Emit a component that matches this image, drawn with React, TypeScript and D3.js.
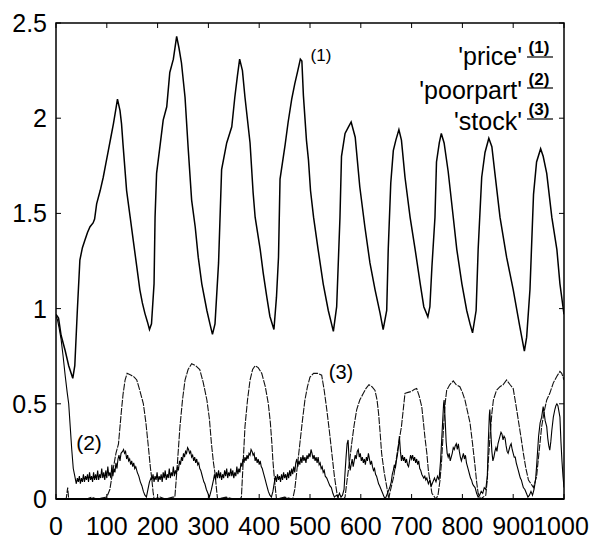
import React from "react";
import * as d3 from "d3";

type Pt = [number, number];

const xTicks = [0, 100, 200, 300, 400, 500, 600, 700, 800, 900, 1000];
const yTicks = [0, 0.5, 1, 1.5, 2, 2.5];
const yTickLabels = ["0", "0.5", "1", "1.5", "2", "2.5"];
const legendNames = ["'price'", "'poorpart'", "'stock'"];
const legendMarks = ["(1)", "(2)", "(3)"];

const price: Pt[] = [
  [0, 0.97], [5, 0.95], [10, 0.86], [18, 0.78], [25, 0.70], [33, 0.634], [37, 0.70], [42, 0.99], [47, 1.255],
  [52, 1.32], [57, 1.36], [62, 1.40], [67, 1.43], [73, 1.45], [76, 1.47], [80, 1.55], [87, 1.62], [93, 1.69],
  [98, 1.76], [103, 1.83], [108, 1.90], [113, 1.97], [118, 2.05], [121, 2.10], [126, 2.04], [129, 1.97],
  [132, 1.86], [139, 1.62], [146, 1.48], [152, 1.36], [159, 1.22], [165, 1.10], [170, 1.03], [175, 0.975],
  [180, 0.93], [184, 0.89], [188, 0.92], [193, 1.13], [195, 1.48], [198, 1.71], [205, 1.86], [211, 1.99],
  [218, 2.06], [224, 2.24], [231, 2.31], [237.5, 2.43], [242, 2.37], [247, 2.29], [254, 2.11], [260, 1.85],
  [267, 1.57], [274, 1.43], [280, 1.27], [287, 1.13], [297, 0.99], [303, 0.92], [308, 0.865], [313, 0.92],
  [320, 1.24], [326, 1.73], [336, 1.87], [346, 1.955], [352, 2.11], [357, 2.22], [361.5, 2.31], [367, 2.25],
  [372, 2.11], [382, 1.87], [388, 1.61], [392, 1.48], [402, 1.31], [408, 1.185], [415, 1.06], [421, 0.96],
  [429, 0.89], [434, 1.06], [438, 1.27], [441, 1.68], [451, 1.86], [457, 1.98], [464, 2.10], [470, 2.18],
  [476, 2.25], [481, 2.31], [484, 2.30], [487, 2.12], [493, 1.885], [497, 1.78], [501, 1.62], [507, 1.48],
  [516, 1.31], [526, 1.13], [536, 0.99], [546, 0.88], [552.5, 1.01], [559, 1.48], [562, 1.80], [569, 1.92],
  [575, 1.95], [581, 1.98], [589, 1.90], [598, 1.64], [608, 1.43], [618, 1.24], [628, 1.10], [638, 0.975],
  [644, 0.89], [651, 0.99], [654, 1.31], [659, 1.66], [664, 1.83], [669, 1.885], [675, 1.94], [680, 1.885],
  [687, 1.69], [697, 1.48], [707, 1.31], [717, 1.13], [724, 1.01], [732, 0.957], [736, 1.01], [740, 1.22],
  [746, 1.48], [749, 1.77], [754.5, 1.87], [758.5, 1.92], [764, 1.87], [772, 1.72], [782, 1.48], [789, 1.31],
  [799, 1.13], [808.5, 0.99], [815, 0.92], [820, 0.873], [827, 0.99], [831, 1.31], [838, 1.69], [844.5, 1.82],
  [852, 1.895], [858, 1.85], [864, 1.71], [874, 1.48], [887, 1.27], [900, 1.10], [913, 0.905], [922, 0.777],
  [926.5, 0.85], [933, 1.10], [940, 1.60], [946, 1.77], [954, 1.84], [959, 1.80], [966, 1.71], [976, 1.48],
  [986, 1.31], [992, 1.13], [1000, 0.97],
];

const poorpart: Pt[] = [
  [0, 0.96], [3, 0.94], [6, 0.90], [10, 0.84], [14, 0.75], [18, 0.65], [22, 0.56], [25, 0.50], [28, 0.38],
  [31, 0.26], [34, 0.16], [37, 0.12],
  [40, 0.08], [42, 0.11], [44, 0.09], [46, 0.12], [48, 0.08], [50, 0.11], [52, 0.09], [54, 0.13], [56, 0.09],
  [58, 0.12], [60, 0.10], [62, 0.13], [64, 0.09], [66, 0.14], [68, 0.10], [70, 0.12], [72, 0.09], [74, 0.14],
  [76, 0.10], [78, 0.13], [80, 0.10], [82, 0.15], [84, 0.10], [86, 0.13], [88, 0.11], [90, 0.16], [92, 0.11],
  [94, 0.14], [96, 0.10], [98, 0.15], [100, 0.11], [102, 0.17], [104, 0.12], [106, 0.14], [108, 0.11],
  [110, 0.18], [112, 0.12], [114, 0.16], [116, 0.14],
  [118, 0.19], [120, 0.16], [122, 0.21], [124, 0.23], [126, 0.20], [128, 0.24], [131, 0.25], [133, 0.26],
  [135, 0.24], [137, 0.25], [139, 0.21], [141, 0.23], [143, 0.20], [145, 0.21], [147, 0.18], [149, 0.20],
  [151, 0.17], [153, 0.19], [155, 0.16], [157, 0.17], [160, 0.14], [163, 0.12], [166, 0.09], [169, 0.07],
  [172, 0.04], [175, 0.02], [178, 0.01], [181, 0.05], [184, 0.09], [187, 0.11],
  [189, 0.10], [191, 0.13], [193, 0.09], [195, 0.12], [197, 0.10], [199, 0.14], [201, 0.09], [203, 0.12],
  [205, 0.10], [207, 0.13], [209, 0.09], [211, 0.14], [213, 0.11], [215, 0.15], [217, 0.10], [219, 0.13],
  [221, 0.11], [223, 0.16], [225, 0.11], [227, 0.14], [229, 0.12], [231, 0.17], [233, 0.12], [235, 0.15],
  [237, 0.13],
  [239, 0.17], [241, 0.15], [243, 0.20], [245, 0.18], [247, 0.22], [249, 0.20], [251, 0.24], [253, 0.22],
  [255, 0.25], [257, 0.24], [259, 0.27], [261, 0.26], [263, 0.24], [265, 0.25], [267, 0.22], [269, 0.23],
  [271, 0.20], [273, 0.22], [275, 0.19], [277, 0.21], [279, 0.18], [281, 0.19], [283, 0.16], [285, 0.15],
  [287, 0.13], [289, 0.11], [291, 0.09], [293, 0.08], [296, 0.05], [299, 0.03], [302, 0.01], [306, 0.05],
  [310, 0.10],
  [312, 0.13], [314, 0.10], [316, 0.14], [318, 0.11], [320, 0.15], [322, 0.11], [324, 0.14], [326, 0.10],
  [328, 0.13], [330, 0.11], [332, 0.15], [334, 0.12], [336, 0.16], [338, 0.11], [340, 0.14], [342, 0.12],
  [344, 0.16], [346, 0.12], [348, 0.15], [350, 0.11], [352, 0.14], [354, 0.12], [356, 0.17], [358, 0.13],
  [360, 0.16], [362, 0.14],
  [364, 0.19], [366, 0.17], [368, 0.21], [370, 0.19], [372, 0.22], [374, 0.20], [376, 0.23], [378, 0.21],
  [380, 0.24], [382, 0.23], [384, 0.26], [386, 0.25], [388, 0.23], [390, 0.24], [392, 0.20], [394, 0.22],
  [396, 0.19], [398, 0.21], [400, 0.18], [402, 0.20], [404, 0.17], [406, 0.16], [408, 0.14], [410, 0.12],
  [412, 0.10], [414, 0.08], [416, 0.06], [418, 0.04], [421, 0.02], [424, 0.01], [427, 0.04], [430, 0.09],
  [432, 0.12], [434, 0.09], [436, 0.13], [438, 0.10], [440, 0.12], [442, 0.09], [444, 0.13], [446, 0.10],
  [448, 0.14], [450, 0.11], [452, 0.13], [454, 0.10], [456, 0.14], [458, 0.11], [460, 0.15], [462, 0.12],
  [464, 0.16], [466, 0.13], [468, 0.17], [470, 0.14],
  [472, 0.19], [474, 0.21], [476, 0.17], [478, 0.20], [480, 0.18], [482, 0.22], [484, 0.19], [486, 0.23],
  [488, 0.20], [490, 0.22], [492, 0.19], [494, 0.23], [496, 0.21], [498, 0.24], [500, 0.22], [502, 0.26],
  [504, 0.24], [506, 0.21], [508, 0.23], [510, 0.20], [512, 0.22], [514, 0.19], [516, 0.22], [518, 0.18],
  [520, 0.19], [522, 0.16], [524, 0.17], [526, 0.14], [528, 0.15], [530, 0.12], [533, 0.11], [536, 0.09],
  [539, 0.07], [542, 0.06], [545, 0.03], [548, 0.01],
  [552, 0.02], [555, 0.01], [558, 0.03], [561, 0.01], [564, 0.02], [567, 0.05],
  [569, 0.14], [571, 0.22], [573, 0.29], [575, 0.31], [577, 0.20], [579, 0.15], [581, 0.18], [583, 0.21],
  [585, 0.17], [587, 0.20], [589, 0.23], [591, 0.21], [593, 0.25], [595, 0.26], [597, 0.22], [599, 0.24],
  [601, 0.20], [603, 0.22], [605, 0.19], [607, 0.21], [609, 0.18], [611, 0.22], [613, 0.20], [615, 0.24],
  [617, 0.21], [619, 0.18], [621, 0.20], [623, 0.17], [625, 0.15], [627, 0.16], [629, 0.13], [631, 0.12],
  [633, 0.10], [635, 0.08], [637, 0.07], [640, 0.05], [643, 0.03], [646, 0.01], [648, 0.0],
  [651, 0.02], [654, 0.04], [657, 0.06], [660, 0.09],
  [662, 0.13], [664, 0.15], [666, 0.18], [668, 0.16], [670, 0.20], [672, 0.23], [674, 0.27], [676, 0.33],
  [678, 0.25], [680, 0.20], [682, 0.23], [684, 0.20], [686, 0.22], [688, 0.19], [690, 0.21], [692, 0.18],
  [694, 0.17], [696, 0.20], [698, 0.23], [700, 0.21], [702, 0.23], [704, 0.20], [706, 0.22], [708, 0.19],
  [710, 0.21], [712, 0.18], [714, 0.20], [716, 0.16], [718, 0.15], [720, 0.13], [722, 0.12], [724, 0.11],
  [726, 0.12], [728, 0.10], [730, 0.11], [733, 0.08], [736, 0.10], [739, 0.07], [742, 0.09], [745, 0.11],
  [748, 0.09], [751, 0.12], [754, 0.10], [757, 0.20],
  [760, 0.35], [763, 0.50], [764, 0.52], [766, 0.42], [768, 0.30], [770, 0.24], [772, 0.22], [774, 0.24],
  [776, 0.20], [778, 0.22], [780, 0.24], [782, 0.27], [784, 0.26], [786, 0.28], [788, 0.29], [790, 0.26],
  [792, 0.29], [794, 0.25], [796, 0.22], [798, 0.20], [800, 0.22], [802, 0.24], [804, 0.21], [806, 0.23],
  [808, 0.19], [810, 0.17], [812, 0.15], [814, 0.13], [816, 0.11], [818, 0.10], [820, 0.08], [822, 0.07],
  [825, 0.06], [828, 0.03], [831, 0.01],
  [834, 0.02], [837, 0.04], [840, 0.03], [843, 0.06], [846, 0.05], [849, 0.12],
  [851, 0.30], [853, 0.44], [854, 0.47], [856, 0.35], [858, 0.25], [860, 0.20], [862, 0.22], [864, 0.25],
  [866, 0.27], [868, 0.25], [870, 0.29], [872, 0.31], [874, 0.33], [876, 0.35], [878, 0.34], [880, 0.31],
  [882, 0.33], [884, 0.32], [886, 0.28], [888, 0.25], [890, 0.24], [892, 0.26], [894, 0.28], [896, 0.29],
  [898, 0.26], [900, 0.24], [902, 0.22], [904, 0.22], [906, 0.19], [908, 0.17], [910, 0.15], [912, 0.13],
  [914, 0.11], [916, 0.10], [918, 0.08], [920, 0.06], [923, 0.05], [926, 0.03], [929, 0.01],
  [932, 0.02], [935, 0.04], [938, 0.02], [941, 0.05], [944, 0.10],
  [946, 0.17], [948, 0.25], [950, 0.33], [953, 0.40], [956, 0.43], [959, 0.485], [961, 0.45], [963, 0.41],
  [966, 0.38], [968, 0.32], [970, 0.28], [972, 0.257], [974, 0.30], [976, 0.36], [979, 0.43], [982, 0.47],
  [984, 0.49], [986, 0.50], [988, 0.49], [990, 0.46], [992, 0.43], [994, 0.30], [996, 0.20], [998, 0.12],
  [1000, 0.06],
];

const stock: Pt[] = [
  [0, 0], [20, 0], [23, 0.06], [25, 0], [60, 0], [70, 0.01], [80, 0], [100, 0.01], [106, 0.05], [112, 0.15],
  [118, 0.24], [123, 0.29], [126, 0.38], [129, 0.47], [132, 0.55], [136, 0.625], [140, 0.66], [148, 0.65],
  [154, 0.64], [159, 0.625], [165, 0.57], [172, 0.50], [177, 0.40], [182, 0.27], [186, 0.16], [188, 0.12],
  [191, 0.04], [193, 0], [205, 0.01], [215, 0], [230, 0.01], [234, 0.01], [238, 0.15], [244, 0.38],
  [249, 0.52], [254, 0.625], [260, 0.68], [267, 0.71], [275, 0.70], [283, 0.68], [290, 0.61], [297, 0.52],
  [302, 0.42], [306, 0.29], [310, 0.19], [313, 0.135], [316, 0.05], [318, 0], [335, 0.01], [350, 0],
  [362, 0], [365, 0.01], [368, 0.17], [372, 0.38], [377, 0.52], [382, 0.625], [387, 0.68], [392, 0.70],
  [398, 0.69], [405, 0.66], [412, 0.59], [418, 0.50], [422, 0.40], [425, 0.29], [427, 0.20], [429, 0.136],
  [432, 0.05], [434, 0], [450, 0.01], [466, 0], [470, 0.05], [475, 0.17], [480, 0.29], [485, 0.41],
  [490, 0.52], [495, 0.59], [500, 0.64], [507, 0.66], [515, 0.66], [523, 0.65], [528, 0.57], [533, 0.47],
  [538, 0.36], [543, 0.24], [548, 0.12], [553, 0.03], [556, 0], [566, 0], [569, 0.01], [573, 0.10],
  [578, 0.20], [582, 0.29], [587, 0.39], [592, 0.47], [598, 0.52], [605, 0.555], [610, 0.58], [616, 0.60],
  [622, 0.59], [628, 0.57], [632, 0.52], [635, 0.45], [638, 0.35], [641, 0.24], [646, 0.14], [651, 0.065],
  [655, 0], [657, 0.03], [665, 0.12], [672, 0.25], [680, 0.38], [684, 0.48], [687, 0.555], [693, 0.56],
  [700, 0.565], [705, 0.575], [710, 0.58], [715, 0.54], [720, 0.485], [723, 0.41], [726, 0.33], [730, 0.24],
  [733, 0.15], [737, 0.08], [740, 0.03], [748, 0], [752, 0.02], [756, 0.10], [759, 0.20], [763, 0.38],
  [766, 0.50], [769, 0.57], [775, 0.60], [782, 0.62], [788, 0.60], [795, 0.59], [800, 0.56], [805, 0.52],
  [810, 0.46], [815, 0.40], [820, 0.29], [825, 0.17], [828, 0.09], [831, 0.03], [836, 0], [846, 0.02],
  [849, 0.10], [851, 0.20], [855, 0.35], [858, 0.45], [861, 0.52], [867, 0.57], [874, 0.59], [880, 0.60],
  [887, 0.625], [894, 0.60], [900, 0.58], [905, 0.50], [910, 0.415], [915, 0.33], [920, 0.24], [925, 0.16],
  [930, 0.10], [935, 0.08], [940, 0.06], [944, 0.10], [946, 0.117], [951, 0.25], [956, 0.38], [961, 0.46],
  [966, 0.52], [972, 0.555], [979, 0.61], [986, 0.645], [992, 0.67], [995.5, 0.66], [1000, 0.625],
];

const W = 599;
const H = 541;
const L = 56, R = 564, T = 23, B = 499;

export default function App() {
  const x = d3.scaleLinear().domain([0, 1000]).range([L, R]);
  const y = d3.scaleLinear().domain([0, 2.5]).range([B, T]);
  const line = d3.line<Pt>().x((d) => x(d[0])).y((d) => y(d[1]));
  const font = "'Liberation Sans', Arial, Helvetica, sans-serif";
  const tick = 5;
  const legendY = [65, 99, 130];
  const legendMarkY = [53, 85, 115];
  const legendLineY = [57, 88, 119];

  return (
    <svg width={W} height={H} style={{ position: "absolute", left: 0, top: 0, background: "#fff" }}
      fontFamily={font}>
      <rect x={0} y={0} width={W} height={H} fill="#fff" />
      <defs>
        <clipPath id="plotclip">
          <rect x={L} y={T - 2} width={R - L} height={B - T + 2} />
        </clipPath>
      </defs>
      <g clipPath="url(#plotclip)">
        <path d={line(stock) || ""} fill="none" stroke="#111" strokeWidth={1.1} strokeDasharray="7 1.2" />
        <path d={line(poorpart) || ""} fill="none" stroke="#000" strokeWidth={1.1} />
        <path d={line(price) || ""} fill="none" stroke="#000" strokeWidth={1.5} />
      </g>
      {/* frame */}
      <rect x={L} y={T} width={R - L} height={B - T} fill="none" stroke="#000" strokeWidth={1.5} />
      <line x1={L} x2={R} y1={B} y2={B} stroke="#000" strokeWidth={2} />
      {/* x ticks */}
      {xTicks.map((t) => (
        <g key={"xt" + t}>
          <line x1={x(t)} x2={x(t)} y1={B} y2={B - tick} stroke="#000" strokeWidth={1} />
          <line x1={x(t)} x2={x(t)} y1={T} y2={T + tick} stroke="#000" strokeWidth={1} />
          <text
            x={t === 1000 ? x(t) - 3 : x(t)}
            y={535}
            textAnchor="middle"
            fontSize={25}
            fill="#000"
          >
            {String(t)}
          </text>
        </g>
      ))}
      {/* y ticks */}
      {yTicks.map((t, i) => (
        <g key={"yt" + t}>
          <line x1={L} x2={L + tick} y1={y(t)} y2={y(t)} stroke="#000" strokeWidth={1} />
          <line x1={R} x2={R - tick} y1={y(t)} y2={y(t)} stroke="#000" strokeWidth={1} />
          <text x={47} y={y(t)} dy="0.36em" textAnchor="end" fontSize={25} fill="#000">
            {yTickLabels[i]}
          </text>
        </g>
      ))}
      {/* legend */}
      {legendNames.map((n, i) => (
        <g key={n}>
          <text x={522} y={legendY[i]} textAnchor="end" fontSize={25} fill="#000">
            {n}
          </text>
          <text x={539} y={legendMarkY[i]} textAnchor="middle" fontSize={17} fontWeight="bold" fill="#000">
            {legendMarks[i]}
          </text>
          <line x1={527} x2={553} y1={legendLineY[i]} y2={legendLineY[i]} stroke="#000" strokeWidth={1.2} />
        </g>
      ))}
      {/* hand annotations */}
      <text x={321} y={61} textAnchor="middle" fontSize={17} fill="#000">(1)</text>
      <text x={89} y={450} textAnchor="middle" fontSize={21} fill="#000">(2)</text>
      <text x={341} y={379} textAnchor="middle" fontSize={20} fill="#000">(3)</text>
    </svg>
  );
}
